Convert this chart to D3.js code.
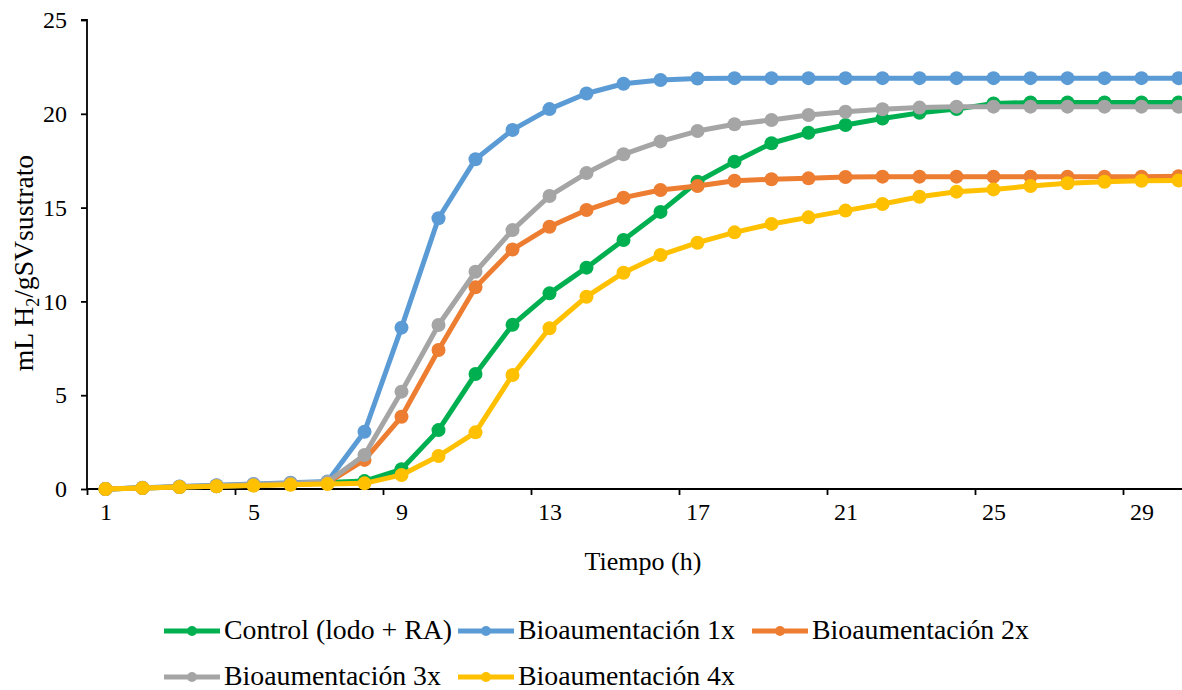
<!DOCTYPE html>
<html>
<head>
<meta charset="utf-8">
<script src="https://cdn.jsdelivr.net/npm/d3@7"></script>
<style>
  html, body { margin: 0; padding: 0; background: #fff; }
  svg { display: block; }
  text { font-family: "Liberation Serif", "Times New Roman", serif; fill: #000; }
</style>
</head>
<body>
<svg id="chart" width="1182" height="690"></svg>
<script>
// ---- data ----
const hours = d3.range(1, 31);
const xTickLabels = [1, 5, 9, 13, 17, 21, 25, 29];
const yTicks = [0, 5, 10, 15, 20, 25];

const control = [0, 0.05, 0.1, 0.15, 0.2, 0.27, 0.35, 0.42, 1.05, 3.14, 6.13, 8.75, 10.43, 11.8, 13.27, 14.77, 16.38, 17.45, 18.43, 18.99, 19.4, 19.75, 20.05, 20.25, 20.55, 20.6, 20.6, 20.6, 20.6, 20.6];
const bio1x = [0, 0.07, 0.13, 0.2, 0.27, 0.33, 0.4, 3.05, 8.6, 14.43, 17.58, 19.14, 20.25, 21.08, 21.6, 21.8, 21.88, 21.9, 21.9, 21.9, 21.9, 21.9, 21.9, 21.9, 21.9, 21.9, 21.9, 21.9, 21.9, 21.9];
const bio2x = [0, 0.05, 0.1, 0.15, 0.2, 0.25, 0.32, 1.55, 3.85, 7.41, 10.75, 12.77, 13.98, 14.87, 15.53, 15.94, 16.15, 16.43, 16.51, 16.56, 16.63, 16.65, 16.65, 16.65, 16.65, 16.65, 16.65, 16.65, 16.65, 16.67];
const bio3x = [0, 0.06, 0.12, 0.18, 0.24, 0.3, 0.37, 1.81, 5.19, 8.74, 11.58, 13.8, 15.62, 16.84, 17.84, 18.53, 19.08, 19.44, 19.67, 19.94, 20.11, 20.24, 20.33, 20.38, 20.38, 20.38, 20.38, 20.38, 20.38, 20.38];
const bio4x = [0, 0.05, 0.1, 0.14, 0.18, 0.22, 0.26, 0.3, 0.75, 1.76, 3.02, 6.08, 8.57, 10.25, 11.53, 12.47, 13.13, 13.68, 14.13, 14.48, 14.84, 15.19, 15.58, 15.85, 15.97, 16.15, 16.3, 16.38, 16.43, 16.45];

const seriesNames = ["Control (lodo + RA)", "Bioaumentación 1x", "Bioaumentación 2x", "Bioaumentación 3x", "Bioaumentación 4x"];
const seriesValues = [control, bio1x, bio2x, bio3x, bio4x];
const seriesColors = ["#00B050", "#5B9BD5", "#ED7D31", "#A5A5A5", "#FFC000"];

// ---- layout ----
const svg = d3.select("#chart");
const mLeft = 87, mTop = 20, mBottom = 489;
const plotRight = 1197; // extends beyond the visible canvas like the reference

const x = d3.scalePoint().domain(hours).range([mLeft, plotRight]).padding(0.5);
const y = d3.scaleLinear().domain([0, 25]).range([mBottom, mTop]);
const step = x.step();

// y axis
const yAxis = d3.axisLeft(y).tickValues(yTicks).tickSize(6).tickPadding(14);
const gy = svg.append("g").attr("transform", `translate(${mLeft},0)`).call(yAxis);
gy.select(".domain").attr("stroke", "#000").attr("stroke-width", 1.8).attr("d", `M-6,${mTop}H0V${mBottom}`);
gy.selectAll(".tick line").attr("stroke", "#000").attr("stroke-width", 1.8);
gy.selectAll(".tick text").attr("font-family", "Liberation Serif").attr("font-size", 24).attr("fill", "#000");

// x axis (category style: ticks between categories, labels on categories)
const xAxis = d3.axisBottom(x).tickValues(xTickLabels).tickSize(0).tickPadding(14);
const gx = svg.append("g").attr("transform", `translate(0,${mBottom})`).call(xAxis);
gx.select(".domain").attr("stroke", "#000").attr("stroke-width", 1.8).attr("d", `M${mLeft},0H${plotRight}`);
gx.selectAll(".tick text").attr("font-family", "Liberation Serif").attr("font-size", 24).attr("fill", "#000");
gx.selectAll(".tick").append("line")
  .attr("x1", -step / 2).attr("x2", -step / 2)
  .attr("y1", 0).attr("y2", 6)
  .attr("stroke", "#000").attr("stroke-width", 1.8);

// axis titles
svg.append("text")
  .attr("x", 643).attr("y", 570)
  .attr("text-anchor", "middle").attr("font-size", 26)
  .text("Tiempo (h)");

const yt = svg.append("text")
  .attr("transform", "translate(33,263) rotate(-90)")
  .attr("text-anchor", "middle").attr("font-size", 27.7);
yt.append("tspan").text("mL H");
yt.append("tspan").attr("font-size", 18).attr("dy", 6).text("2");
yt.append("tspan").attr("dy", -6).text("/gSVsustrato");

// series
const line = d3.line().x((d, i) => x(hours[i])).y(d => y(d));
seriesValues.forEach((vals, k) => {
  const g = svg.append("g");
  g.append("path")
    .attr("d", line(vals))
    .attr("fill", "none")
    .attr("stroke", seriesColors[k])
    .attr("stroke-width", 5)
    .attr("stroke-linejoin", "round");
  g.selectAll("circle").data(vals).join("circle")
    .attr("cx", (d, i) => x(hours[i]))
    .attr("cy", d => y(d))
    .attr("r", 7)
    .attr("fill", seriesColors[k]);
});

// legend
const legendPos = [
  { lx: 164, ly: 631 },
  { lx: 458, ly: 631 },
  { lx: 752, ly: 631 },
  { lx: 164, ly: 677 },
  { lx: 458, ly: 677 }
];
seriesNames.forEach((name, k) => {
  const p = legendPos[k];
  const g = svg.append("g");
  g.append("line")
    .attr("x1", p.lx).attr("x2", p.lx + 56)
    .attr("y1", p.ly).attr("y2", p.ly)
    .attr("stroke", seriesColors[k]).attr("stroke-width", 5);
  g.append("circle")
    .attr("cx", p.lx + 28).attr("cy", p.ly).attr("r", 5)
    .attr("fill", seriesColors[k]);
  g.append("text")
    .attr("x", p.lx + 60).attr("y", p.ly + 8)
    .attr("font-size", 27.8)
    .text(name);
});
</script>
</body>
</html>
